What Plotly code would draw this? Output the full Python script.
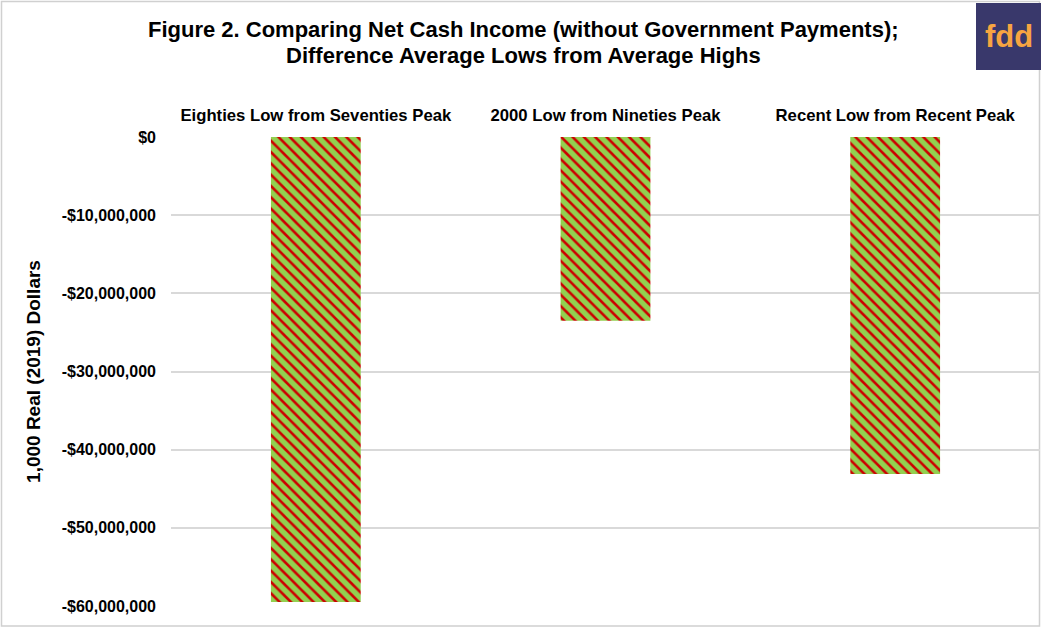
import plotly.graph_objects as go

categories = ["Eighties Low from Seventies Peak", "2000 Low from Nineties Peak", "Recent Low from Recent Peak"]
values = [-59500000, -23500000, -43100000]
tick_vals = [0, -10000000, -20000000, -30000000, -40000000, -50000000, -60000000]
tick_text = ["$0", "-$10,000,000", "-$20,000,000", "-$30,000,000", "-$40,000,000", "-$50,000,000", "-$60,000,000"]
title_lines = ["Figure 2. Comparing Net Cash Income (without Government Payments);",
               "Difference Average Lows from Average Highs"]

W, H = 1041, 628
L, R, T, B = 171, 1, 137, 22
PW, PH = W - L - R, H - T - B
FONT = "Liberation Sans, Arial"

def px(x):
    return (x - L) / PW

def py(y):
    return (H - B - y) / PH

fig = go.Figure()
fig.add_trace(go.Bar(
    x=categories, y=values, width=0.31,
    marker=dict(
        color="#CC0000",
        line=dict(width=0),
        pattern=dict(shape="\\", size=8, solidity=0.68, fgcolor="#92D050", bgcolor="#CC0000",
                     fgopacity=1, fillmode="overlay"),
    ),
    hoverinfo="skip",
))

annotations = [
    dict(text="<b>fdd</b>", xref="paper", yref="paper", x=px(1008.5), y=py(37),
         xanchor="center", yanchor="middle", showarrow=False,
         font=dict(size=31, color="#F7A541", family=FONT)),
]
for i, line in enumerate(title_lines):
    annotations.append(dict(
        text="<b>" + line + "</b>", xref="paper", yref="paper",
        x=px(523), y=py(30 + 26 * i), xanchor="center", yanchor="middle", showarrow=False,
        font=dict(size=22, color="black", family=FONT)))

fig.update_layout(
    width=W, height=H,
    margin=dict(l=L, r=R, t=T, b=B),
    paper_bgcolor="white", plot_bgcolor="white",
    showlegend=False,
    font=dict(family=FONT, color="black"),
    xaxis=dict(
        side="top", showgrid=False, showline=False, ticks="", zeroline=False,
        tickfont=dict(size=16.7, family=FONT, color="black", weight="bold"),
        ticklabelstandoff=12,
    ),
    yaxis=dict(
        range=[-60000000, 0], tickvals=tick_vals, ticktext=tick_text,
        showgrid=True, gridcolor="#D9D9D9", gridwidth=1.5, zeroline=False, showline=False,
        tickfont=dict(size=16, family=FONT, color="black", weight="bold"),
        ticklabelstandoff=14,
        title=dict(text="<b>1,000 Real (2019) Dollars</b>", font=dict(size=19, family=FONT), standoff=16),
    ),
    shapes=[
        dict(type="rect", xref="paper", yref="paper",
             x0=px(1.5), x1=px(1039.5), y0=py(626), y1=py(1.5),
             line=dict(color="#D0D0D0", width=1.5), fillcolor="rgba(0,0,0,0)", layer="below"),
        dict(type="rect", xref="paper", yref="paper",
             x0=px(976), x1=px(1041), y0=py(70), y1=py(3),
             line=dict(width=0), fillcolor="#39386B", layer="above"),
    ],
    annotations=annotations,
)

fig.write_html("out.html")
